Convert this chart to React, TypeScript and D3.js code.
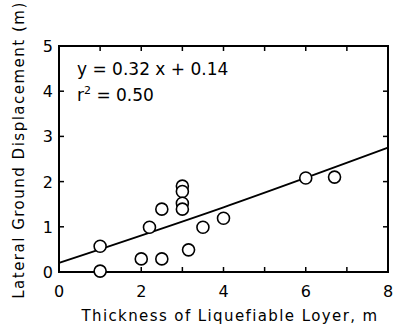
import { useRef, useEffect } from 'react';
import * as d3 from 'd3';

// thickness (m) vs displacement (m)
const thickness = [1.0, 1.0, 2.0, 2.5, 2.2, 2.5, 3.0, 3.0, 3.0, 3.0, 3.15, 3.5, 4.0, 6.0, 6.7];
const displacement = [0.57, 0.02, 0.29, 0.29, 0.99, 1.39, 1.9, 1.78, 1.52, 1.39, 0.49, 0.99, 1.19, 2.08, 2.1];

// fitted line as drawn
const fitX = [0, 4, 8];
const fitY = [0.2, 1.43, 2.75];

const xTicks = [0, 2, 4, 6, 8];
const xMinor = [1, 2, 3, 4, 5, 6, 7];
const yTicks = [0, 1, 2, 3, 4, 5];

const W = 393;
const H = 324;
const FONT = "'DejaVu Sans', sans-serif";

const App = () => {
  const svgRef = useRef<SVGSVGElement>(null);

  useEffect(() => {
    const svg = d3.select(svgRef.current);
    svg.selectAll('*').remove();

    const x = d3.scaleLinear().domain([0, 8]).range([59, 388]);
    const y = d3.scaleLinear().domain([0, 5]).range([272, 46]);

    const g = svg.append('g');

    // frame
    g.append('rect')
      .attr('x', x(0)).attr('y', y(5))
      .attr('width', x(8) - x(0)).attr('height', y(0) - y(5))
      .attr('fill', 'none').attr('stroke', '#000').attr('stroke-width', 2);

    // inward ticks on every side
    const tl = 5;
    xMinor.forEach(t => {
      g.append('line').attr('x1', x(t)).attr('x2', x(t)).attr('y1', y(0)).attr('y2', y(0) - tl)
        .attr('stroke', '#000').attr('stroke-width', 1.5);
      g.append('line').attr('x1', x(t)).attr('x2', x(t)).attr('y1', y(5)).attr('y2', y(5) + tl)
        .attr('stroke', '#000').attr('stroke-width', 1.5);
    });
    yTicks.slice(1, -1).forEach(t => {
      g.append('line').attr('x1', x(0)).attr('x2', x(0) + tl).attr('y1', y(t)).attr('y2', y(t))
        .attr('stroke', '#000').attr('stroke-width', 1.5);
      g.append('line').attr('x1', x(8)).attr('x2', x(8) - tl).attr('y1', y(t)).attr('y2', y(t))
        .attr('stroke', '#000').attr('stroke-width', 1.5);
    });

    // tick labels
    g.selectAll('.xl').data(xTicks).enter().append('text')
      .attr('x', d => x(d)).attr('y', 297)
      .attr('text-anchor', 'middle')
      .style('font-family', FONT).style('font-size', '16px')
      .text(d => d);
    g.selectAll('.yl').data(yTicks).enter().append('text')
      .attr('x', 53).attr('y', d => y(d) + 6)
      .attr('text-anchor', 'end')
      .style('font-family', FONT).style('font-size', '16px')
      .text(d => d);

    // axis titles
    g.append('text')
      .attr('x', 230).attr('y', 321)
      .attr('text-anchor', 'middle')
      .style('font-family', FONT).style('font-size', '15px').style('letter-spacing', '1.4px')
      .text('Thickness of Liquefiable Loyer, m');
    g.append('text')
      .attr('transform', `translate(24,150) rotate(-90)`)
      .attr('text-anchor', 'middle')
      .style('font-family', FONT).style('font-size', '15px').style('letter-spacing', '1.5px')
      .text('Lateral Ground Displacement (m)');

    // fit line
    const line = d3.line<number>().x((d, i) => x(fitX[i])).y(d => y(d)).curve(d3.curveMonotoneX);
    g.append('path').datum(fitY).attr('d', line)
      .attr('fill', 'none').attr('stroke', '#000').attr('stroke-width', 1.8);

    // points
    g.selectAll('.pt').data(thickness).enter().append('circle')
      .attr('cx', d => x(d)).attr('cy', (d, i) => y(displacement[i]))
      .attr('r', 6)
      .attr('fill', '#fff').attr('stroke', '#000').attr('stroke-width', 1.6);

    // equation
    const eq = g.append('text').attr('x', 77).attr('y', 75)
      .style('font-family', FONT).style('font-size', '17px');
    eq.text('y = 0.32 x + 0.14');
    const r2 = g.append('text').attr('x', 77).attr('y', 101)
      .style('font-family', FONT).style('font-size', '17px');
    r2.append('tspan').text('r');
    r2.append('tspan').attr('dy', -7).style('font-size', '11px').text('2');
    r2.append('tspan').attr('dy', 7).text(' = 0.50');
  }, []);

  return <svg ref={svgRef} width={W} height={H} style={{ display: 'block', position: 'absolute', left: 0, top: 0, background: '#fff' }}></svg>;
};

export default App;
